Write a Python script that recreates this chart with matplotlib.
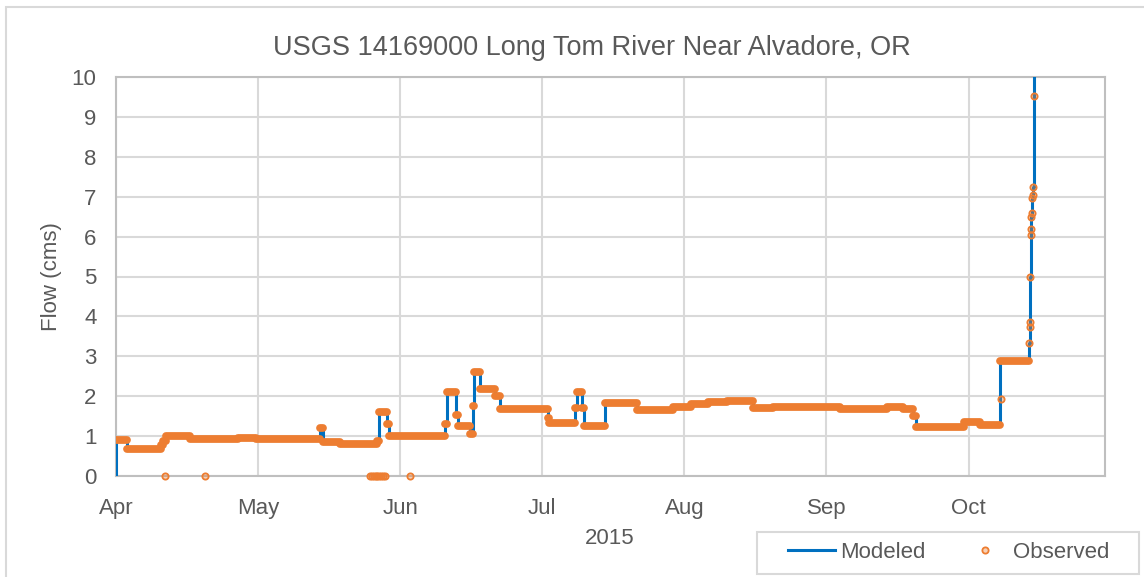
"""
Long Tom River near Alvadore (USGS 14169000): modeled vs observed flow, Apr-Oct 2015.
"""
import matplotlib
matplotlib.use("Agg")
import matplotlib.pyplot as plt
from matplotlib.lines import Line2D
from matplotlib.patches import Rectangle

plt.rcParams['font.family'] = ['Liberation Sans', 'DejaVu Sans']

# Days since 2015-04-01 where each flat stretch of the record starts, and its flow (cms)
run_start = [0.0, 2.3, 9.4, 10.0, 10.6, 15.6, 25.8, 29.6, 43.1, 43.7, 47.3, 55.2,
             55.6, 57.2, 57.6, 69.4, 69.9, 71.7, 72.1, 74.7, 75.3, 75.6, 76.9,
             80.0, 81.1, 91.1, 91.5, 96.9, 97.3, 98.3, 98.8, 103.2, 110.0,
             117.6, 121.5, 125.0, 129.0, 134.5, 138.7, 152.9, 162.8, 166.2,
             168.3, 168.8, 179.0, 182.4, 186.7]
run_flow = [0.90, 0.68, 0.78, 0.88, 1.00, 0.92, 0.95, 0.92, 1.20, 0.84, 0.80, 0.87,
            1.60, 1.30, 1.00, 1.30, 2.10, 1.52, 1.26, 1.05, 1.75, 2.60, 2.18,
            2.00, 1.68, 1.45, 1.33, 1.70, 2.10, 1.70, 1.25, 1.83, 1.65,
            1.72, 1.80, 1.86, 1.88, 1.70, 1.73, 1.68, 1.72, 1.68,
            1.50, 1.23, 1.35, 1.29, 2.87]
run_end_last = 192.8

# October storm rise
rise_day = [192.85, 192.95, 193.0, 193.05, 193.15, 193.2, 193.25, 193.3, 193.45, 193.55, 193.65, 193.8]
rise_flow = [3.33, 3.73, 3.85, 5.00, 6.04, 6.19, 6.49, 6.60, 6.97, 7.04, 7.24, 9.52]
model_peak = 12.0

# Observed-only readings (zero flow records and transition points)
zero_day = [10.3, 18.8, 53.6, 54.0, 54.4, 54.8, 55.2, 55.6, 56.0, 56.4, 56.8, 62.1]
jump_day = [186.75]
jump_flow = [1.93]

month_labels = ['Apr', 'May', 'Jun', 'Jul', 'Aug', 'Sep', 'Oct']
tick_days = [0, 30, 60, 90, 120, 150, 180]

BLUE = '#0070C0'
ORANGE = '#ED7D31'
TEXT = '#595959'
GRID = '#D9D9D9'

fig = plt.figure(figsize=(11.44, 5.77), dpi=100)
ax = fig.add_axes([116 / 1144, 1 - 476 / 577, 989 / 1144, 399 / 577])

# modeled: step line through the record, starting from zero on Apr 1
m_day = [0.0] + [d + 0.02 if i == 0 else d for i, d in enumerate(run_start)] + rise_day + [rise_day[-1] + 0.1]
m_flow = [0.0] + run_flow + rise_flow + [model_peak]
ax.plot(m_day, m_flow, drawstyle='steps-post', color=BLUE, lw=2.2, zorder=3)

# observed: dense readings drawn as thick flat runs
run_end = run_start[1:] + [run_end_last]
lc = ax.hlines(run_flow, run_start, run_end, colors=ORANGE, linewidths=5.6, zorder=4)
lc.set_capstyle('round')

obs_x = zero_day + jump_day + rise_day
obs_y = [0.0] * len(zero_day) + jump_flow + rise_flow
mfc = (0.93, 0.49, 0.19, 0.35)
ax.plot(obs_x, obs_y, ls='none', marker='o', ms=4.5, mfc=mfc, mec=ORANGE, mew=1.3,
        zorder=5, clip_on=False)

ax.set_xlim(0, 208.8)
ax.set_ylim(0, 10)
ax.set_xticks(tick_days)
ax.set_xticklabels(month_labels)
ax.set_yticks(range(0, 11))
ax.tick_params(axis='both', length=0, labelsize=16, colors=TEXT)
ax.tick_params(axis='x', pad=16)
ax.tick_params(axis='y', pad=14)
ax.grid(True, color=GRID, lw=1.5)
ax.set_axisbelow(True)
for s in ax.spines.values():
    s.set_color('#BFBFBF')
    s.set_linewidth(1.5)

fig.text(592 / 1144, 1 - 48 / 577, 'USGS 14169000 Long Tom River Near Alvadore, OR',
         ha='center', va='center', fontsize=19.5, color=TEXT)
fig.text(610 / 1144, 1 - 538 / 577, '2015', ha='center', va='center', fontsize=16, color=TEXT)
fig.text(51 / 1144, 1 - 277 / 577, 'Flow (cms)', ha='center', va='center', rotation=90,
         fontsize=16, color=TEXT)

handles = [Line2D([], [], color=BLUE, lw=2.2),
           Line2D([], [], ls='none', marker='o', ms=4.5, mfc=mfc, mec=ORANGE, mew=1.3)]
leg = fig.legend(handles, ['Modeled', 'Observed'], loc='center',
                 bbox_to_anchor=(949 / 1144, 1 - 552.5 / 577), ncol=2, fontsize=16,
                 frameon=False, handlelength=2.1,
                 handletextpad=0.25, columnspacing=1.6)
for t in leg.get_texts():
    t.set_color(TEXT)

# legend box and chart area border
fig.patches.append(Rectangle((757 / 1144, 1 - 574 / 577), 382 / 1144, 42 / 577,
                             transform=fig.transFigure, fill=False, edgecolor=GRID, lw=1.5))
fig.patches.append(Rectangle((6 / 1144, -0.1), 1.2, 1 - 7 / 577 + 0.1, transform=fig.transFigure,
                             fill=False, edgecolor=GRID, lw=1.5, zorder=0))

fig.savefig('out.png', dpi=100)
